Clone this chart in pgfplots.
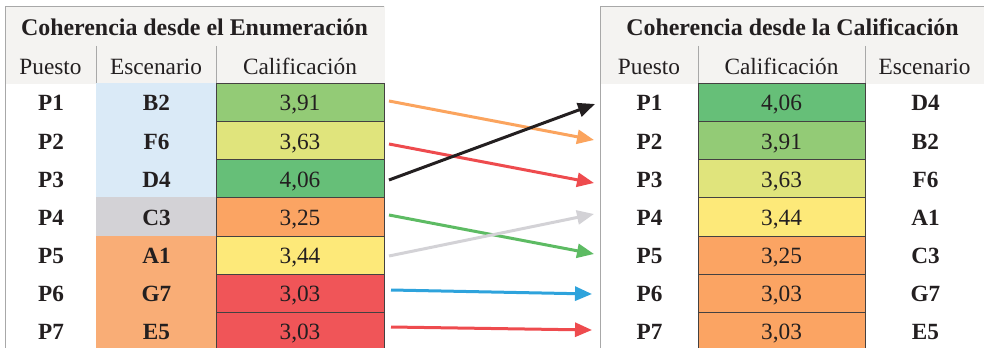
\documentclass[border=0pt]{standalone}
\usepackage{pgfplots}
\pgfplotsset{compat=1.18}
\usepackage{fontspec}
\setmainfont{Liberation Serif}
\usetikzlibrary{arrows.meta}
\definecolor{hdr}{HTML}{F4F3F1}
\definecolor{gline}{HTML}{A8A8A8}
\definecolor{cblue}{HTML}{DAEAF7}
\definecolor{cgray}{HTML}{D3D2D6}
\definecolor{cpeach}{HTML}{F9AD76}
\definecolor{gA}{HTML}{93CB76}
\definecolor{gB}{HTML}{E0E47C}
\definecolor{gC}{HTML}{66BF78}
\definecolor{gO}{HTML}{FBA463}
\definecolor{gY}{HTML}{FDE979}
\definecolor{gR}{HTML}{F05558}
\definecolor{txt}{HTML}{231F20}
\definecolor{aO}{HTML}{FBA45E}
\definecolor{aR}{HTML}{EE4B4E}
\definecolor{aG}{HTML}{5DBB63}
\definecolor{aGr}{HTML}{D3D2D6}
\definecolor{aB}{HTML}{2EA3DC}
\newcommand{\cellbox}[6]{\addplot[fill=#5, draw=#6, line width=1bp] coordinates {(#1,#2) (#3,#2) (#3,#4) (#1,#4)} -- cycle;}
\newcommand{\seg}[5]{\addplot[draw=#5, line width=1bp] coordinates {(#1,#2) (#3,#4)};}
\newcommand{\arr}[5]{\addplot[draw=#5, line width=3bp, -{Triangle[length=17bp,width=14bp]}] coordinates {(#1,#2) (#3,#4)};}
\newcommand{\bt}[3]{\node[text=txt, anchor=base, inner sep=0pt, font=\fontsize{23.3}{25}\selectfont\bfseries] at (axis cs:#1,#2) {#3};}
\newcommand{\rt}[3]{\node[text=txt, anchor=base, inner sep=0pt, font=\fontsize{23.4}{25}\selectfont] at (axis cs:#1,#2) {#3};}
\begin{document}
\begin{tikzpicture}
\begin{axis}[
  name=ax,
  width=984bp, height=348bp, scale only axis,
  xmin=0, xmax=984, ymin=0, ymax=348, y dir=reverse,
  hide axis, clip=false,
]
% header backgrounds
\cellbox{5}{7}{384}{83}{hdr}{hdr}
\cellbox{600}{7}{984}{83}{hdr}{hdr}
% left scenario column
\cellbox{96}{83}{216}{197.8}{cblue}{cblue}
\cellbox{96}{197.8}{216}{236}{cgray}{cgray}
\cellbox{96}{236}{216}{348}{cpeach}{cpeach}
% left calificacion cells
\cellbox{216}{83}{384}{121.5}{gA}{txt!85}
\cellbox{216}{121.5}{384}{159.7}{gB}{txt!85}
\cellbox{216}{159.7}{384}{197.8}{gC}{txt!85}
\cellbox{216}{197.8}{384}{236}{gO}{txt!85}
\cellbox{216}{236}{384}{274}{gY}{txt!85}
\cellbox{216}{274}{384}{312}{gR}{txt!85}
\cellbox{216}{312}{384}{349}{gR}{txt!85}
% right calificacion cells
\cellbox{698}{83}{865}{121.5}{gC}{txt!85}
\cellbox{698}{121.5}{865}{159.7}{gA}{txt!85}
\cellbox{698}{159.7}{865}{197.8}{gB}{txt!85}
\cellbox{698}{197.8}{865}{236}{gY}{txt!85}
\cellbox{698}{236}{865}{274}{gO}{txt!85}
\cellbox{698}{274}{865}{312}{gO}{txt!85}
\cellbox{698}{312}{865}{349}{gO}{txt!85}
% grid lines
\seg{5}{7}{384}{7}{gline}
\seg{5}{7}{5}{348}{gline}
\seg{96}{46}{96}{83}{gline}
\seg{216}{46}{216}{83}{gline}
\seg{600}{7}{984}{7}{gline}
\seg{600}{7}{600}{348}{gline}
\seg{698}{46}{698}{83}{gline}
\seg{865}{46}{865}{83}{gline}
% arrows
\arr{389}{101}{594}{140}{aO}
\arr{389}{144}{594}{183}{aR}
\arr{389}{180}{595}{104}{txt}
\arr{389}{215}{594}{254}{aG}
\arr{389}{256}{594}{214}{aGr}
\arr{391}{290}{592}{294}{aB}
\arr{391}{327}{592}{330}{aR}
% titles
\node[text=txt, anchor=base, inner sep=0pt, font=\fontsize{24}{25}\selectfont\bfseries] at (axis cs:194.5,35) {Coherencia desde el Enumeración};
\node[text=txt, anchor=base, inner sep=0pt, font=\fontsize{24}{25}\selectfont\bfseries] at (axis cs:792.5,35) {Coherencia desde la Calificación};
\rt{50.5}{74}{Puesto}
\rt{156}{74}{Escenario}
\rt{300}{74}{Calificación}
\rt{649}{74}{Puesto}
\rt{781.5}{74}{Calificación}
\rt{924.5}{74}{Escenario}
% left rows
\bt{51}{110.5}{P1} \bt{156.5}{110.5}{B2} \rt{300}{110.5}{3,91}
\bt{51}{149}{P2}   \bt{156.5}{149}{F6}   \rt{300}{149}{3,63}
\bt{51}{187.2}{P3} \bt{156.5}{187.2}{D4} \rt{300}{187.2}{4,06}
\bt{51}{225.4}{P4} \bt{156.5}{225.4}{C3} \rt{300}{225.4}{3,25}
\bt{51}{263.5}{P5} \bt{156.5}{263.5}{A1} \rt{300}{263.5}{3,44}
\bt{51}{301.5}{P6} \bt{156.5}{301.5}{G7} \rt{300}{301.5}{3,03}
\bt{51}{339.5}{P7} \bt{156.5}{339.5}{E5} \rt{300}{339.5}{3,03}
% right rows
\bt{649.5}{110.5}{P1} \rt{781.5}{110.5}{4,06} \bt{925.5}{110.5}{D4}
\bt{649.5}{149}{P2}   \rt{781.5}{149}{3,91}   \bt{925.5}{149}{B2}
\bt{649.5}{187.2}{P3} \rt{781.5}{187.2}{3,63} \bt{925.5}{187.2}{F6}
\bt{649.5}{225.4}{P4} \rt{781.5}{225.4}{3,44} \bt{925.5}{225.4}{A1}
\bt{649.5}{263.5}{P5} \rt{781.5}{263.5}{3,25} \bt{925.5}{263.5}{C3}
\bt{649.5}{301.5}{P6} \rt{781.5}{301.5}{3,03} \bt{925.5}{301.5}{G7}
\bt{649.5}{339.5}{P7} \rt{781.5}{339.5}{3,03} \bt{925.5}{339.5}{E5}
\end{axis}
\pgfresetboundingbox
\useasboundingbox (ax.south west) rectangle (ax.north east);
\end{tikzpicture}
\end{document}
